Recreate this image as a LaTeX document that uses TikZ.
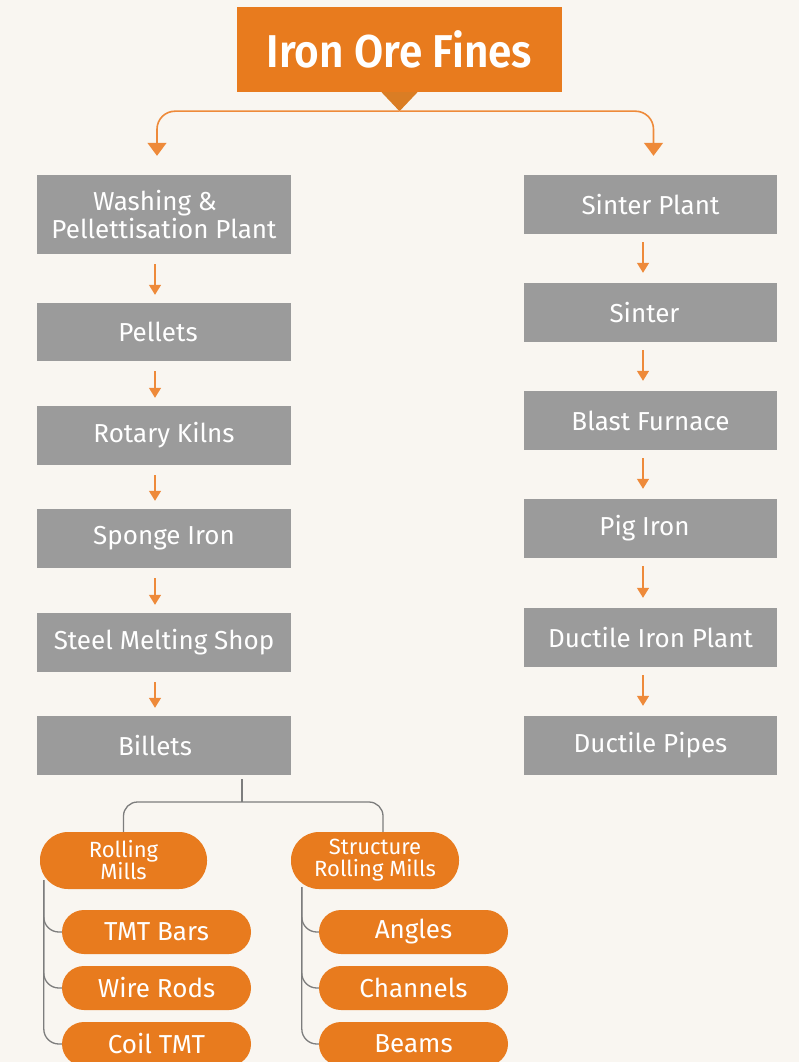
\documentclass[tikz,border=0pt]{standalone}
\usepackage{fontspec}
\setmainfont{Fira Sans}
\newfontfamily\titlefont{Fira Sans}[FakeStretch=0.92,UprightFont=* SemiBold]
\usetikzlibrary{arrows.meta,positioning}
\definecolor{bg}{HTML}{F9F6F1}
\definecolor{og}{HTML}{E87B1E}
\definecolor{ogdark}{HTML}{DA7D24}
\definecolor{ogline}{HTML}{EE8A3A}
\definecolor{gr}{HTML}{9B9B9B}
\definecolor{treeline}{HTML}{7D7D7D}
\begin{document}
\begin{tikzpicture}[x=1pt,y=-1pt,
  greybox/.style={fill=gr, text=white, minimum width=254pt, inner sep=0pt, align=center,
     font=\fontsize{26}{28}\selectfont},
  pill/.style={fill=og, text=white, inner sep=0pt, align=center},
  bigpill/.style={pill, minimum width=167pt, minimum height=57pt, rounded corners=28pt,
     font=\fontsize{22}{22}\selectfont},
  smallpill/.style={pill, minimum width=189pt, minimum height=44pt, rounded corners=22pt,
     font=\fontsize{26}{28}\selectfont},
  arr/.style={ogline, line width=1.4pt, -{Triangle[width=12pt,length=10pt]}},
  toparr/.style={ogline, line width=1.6pt, rounded corners=18pt, -{Triangle[width=19pt,length=13pt]}},
  tree/.style={treeline, line width=1.3pt, rounded corners=15pt}]
\useasboundingbox (0,0) rectangle (799,1062);
\fill[bg] (0,0) rectangle (799,1062);

% title
\node[fill=og, text=white, minimum width=325pt, minimum height=85pt, inner sep=0pt,
  font=\titlefont\fontsize{46}{48}\selectfont] (title) at (399.5,49.5) {Iron Ore Fines};
\fill[ogdark] ([xshift=-18pt]title.south) -- ([xshift=18pt]title.south) -- ([yshift=-19pt]title.south) coordinate (tip) -- cycle;

% left column
\node[greybox, minimum height=79pt] (wash) at (164,214.5) {\hspace*{-18pt}Washing \&\\Pellettisation Plant};
\node[greybox, minimum height=58pt] (pel) at (164,332) {\hspace*{-12pt}Pellets};
\node[greybox, minimum height=59pt] (rot) at (164,435.5) {Rotary Kilns};
\node[greybox, minimum height=59pt] (spo) at (164,538.5) {Sponge Iron};
\node[greybox, minimum height=59pt] (sms) at (164,642.5) {Steel Melting Shop};
\node[greybox, minimum height=59pt] (bil) at (164,745.5) {\hspace*{-18pt}Billets};

% right column
\node[greybox, minimum width=253pt, minimum height=59pt] (sp) at (650.5,204.5) {Sinter Plant};
\node[greybox, minimum width=253pt, minimum height=59pt] (sin) at (650.5,312.5) {\hspace*{-12pt}Sinter};
\node[greybox, minimum width=253pt, minimum height=59pt] (bf) at (650.5,420.5) {Blast Furnace};
\node[greybox, minimum width=253pt, minimum height=59pt] (pig) at (650.5,528.5) {\hspace*{-12pt}Pig Iron};
\node[greybox, minimum width=253pt, minimum height=59pt] (dip) at (650.5,637.5) {Ductile Iron Plant};
\node[greybox, minimum width=253pt, minimum height=59pt] (dp) at (650.5,745.5) {Ductile Pipes};

% top branches
\draw[toparr] (tip) -| ([xshift=-7pt,yshift=19pt]wash.north);
\draw[toparr] (tip) -| ([xshift=3pt,yshift=19pt]sp.north);

% left arrows
\foreach \a/\b in {wash/pel, pel/rot, rot/spo, spo/sms, sms/bil}
  \draw[arr] ([xshift=-9pt,yshift=-10pt]\a.south) -- ([xshift=-9pt,yshift=8pt]\b.north);
% right arrows
\foreach \a/\b in {sp/sin, sin/bf, bf/pig, pig/dip, dip/dp}
  \draw[arr] ([xshift=-7.5pt,yshift=-8pt]\a.south) -- ([xshift=-7.5pt,yshift=10pt]\b.north);

% mills
\node[bigpill] (rm) at (123.5,860.5) {Rolling\\Mills};
\node[bigpill, minimum width=168pt] (srm) at (375,860.5) {Structure\\Rolling Mills};

\node[smallpill] (tmt) at (156.5,932) {TMT Bars};
\node[smallpill] (wr) at (156.5,988) {Wire Rods};
\node[smallpill] (ct) at (156.5,1044) {Coil TMT};
\node[smallpill] (ang) at (413.5,932) {Angles};
\node[smallpill] (cha) at (413.5,988) {Channels};
\node[smallpill] (bea) at (413.5,1044) {Beams};

% tree lines
\draw[tree] ([xshift=78pt,yshift=-4pt]bil.south) coordinate (bs) -- (bs |- 0,802);
\draw[tree, rounded corners=14pt] (rm.north) -- (rm.north |- 0,802) -- ([xshift=8pt]srm.north |- 0,802) -- ([xshift=8pt]srm.north);
\foreach \c in {tmt, wr, ct}
  \draw[tree] ([xshift=4pt,yshift=9pt]rm.south west) |- (\c.west);
\foreach \c in {ang, cha, bea}
  \draw[tree] ([xshift=11pt,yshift=2pt]srm.south west) |- (\c.west);
\end{tikzpicture}
\end{document}
